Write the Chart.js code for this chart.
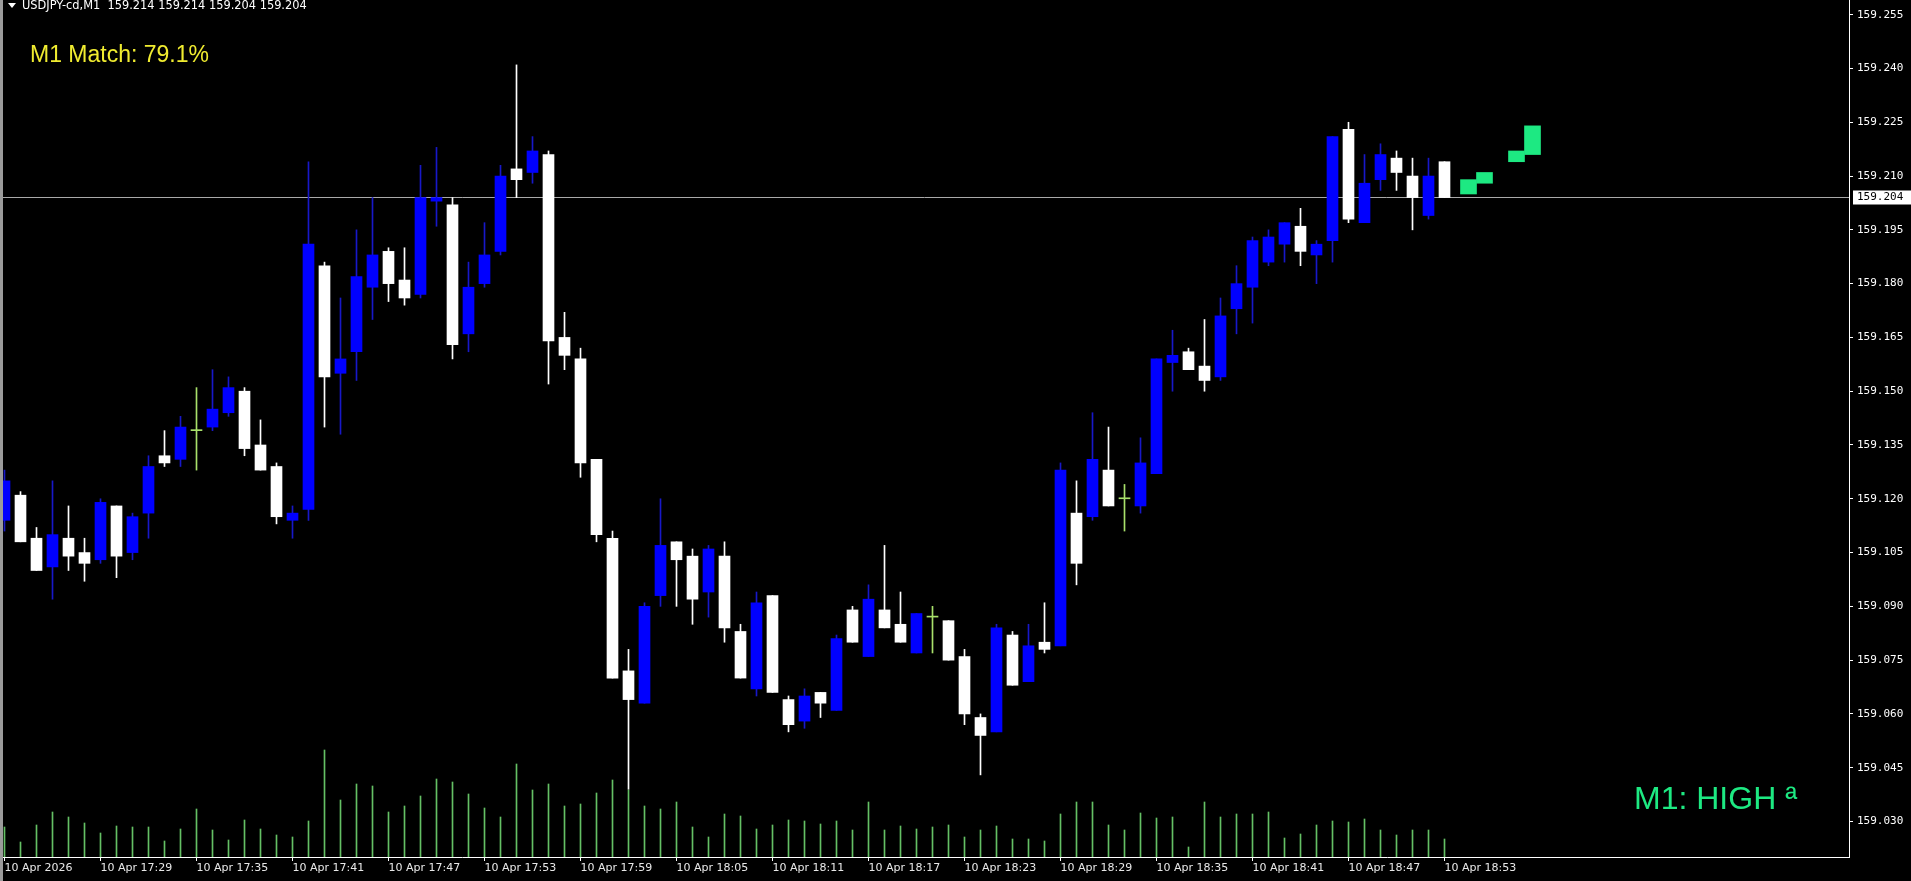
<!DOCTYPE html>
<html>
<head>
<meta charset="utf-8">
<title>USDJPY-cd,M1</title>
<script src="https://cdn.jsdelivr.net/npm/chart.js@4.4.1/dist/chart.umd.min.js"></script>
<style>
  html, body { margin: 0; padding: 0; background: #000; overflow: hidden; }
  #wrap { width: 1911px; height: 881px; }
</style>
</head>
<body>
<div id="wrap"><canvas id="chart" width="1911" height="881"></canvas></div>
<script>
// USDJPY-cd M1 candles, 10 Apr 2026 17:23 - 18:53
const times = [
  '17:23','17:24','17:25','17:26','17:27','17:28','17:29','17:30','17:31','17:32',
  '17:33','17:34','17:35','17:36','17:37','17:38','17:39','17:40','17:41','17:42',
  '17:43','17:44','17:45','17:46','17:47','17:48','17:49','17:50','17:51','17:52',
  '17:53','17:54','17:55','17:56','17:57','17:58','17:59','18:00','18:01','18:02',
  '18:03','18:04','18:05','18:06','18:07','18:08','18:09','18:10','18:11','18:12',
  '18:13','18:14','18:15','18:16','18:17','18:18','18:19','18:20','18:21','18:22',
  '18:23','18:24','18:25','18:26','18:27','18:28','18:29','18:30','18:31','18:32',
  '18:33','18:34','18:35','18:36','18:37','18:38','18:39','18:40','18:41','18:42',
  '18:43','18:44','18:45','18:46','18:47','18:48','18:49','18:50','18:51','18:52',
  '18:53'
];
const open = [
  159.114,159.121,159.109,159.101,159.109,159.105,159.103,159.118,159.105,159.116,
  159.132,159.131,159.139,159.140,159.144,159.150,159.135,159.129,159.114,159.117,
  159.185,159.155,159.161,159.179,159.189,159.181,159.177,159.203,159.202,159.166,
  159.180,159.189,159.212,159.211,159.216,159.165,159.159,159.131,159.109,159.072,
  159.063,159.093,159.108,159.104,159.094,159.104,159.083,159.067,159.093,159.064,
  159.058,159.066,159.061,159.089,159.076,159.089,159.085,159.077,159.087,159.086,
  159.076,159.059,159.055,159.082,159.069,159.080,159.079,159.116,159.115,159.128,
  159.120,159.118,159.127,159.158,159.161,159.157,159.154,159.173,159.179,159.186,
  159.191,159.196,159.188,159.192,159.223,159.197,159.209,159.215,159.210,159.199,
  159.214
];
const high = [
  159.128,159.122,159.112,159.125,159.118,159.109,159.120,159.118,159.116,159.132,
  159.139,159.143,159.151,159.156,159.154,159.151,159.142,159.130,159.118,159.214,
  159.186,159.176,159.195,159.204,159.190,159.190,159.213,159.218,159.204,159.186,
  159.197,159.213,159.241,159.221,159.217,159.172,159.162,159.131,159.111,159.078,
  159.091,159.120,159.108,159.106,159.107,159.108,159.085,159.094,159.093,159.065,
  159.067,159.066,159.082,159.090,159.096,159.107,159.094,159.088,159.090,159.086,
  159.078,159.060,159.085,159.083,159.085,159.091,159.130,159.125,159.144,159.140,
  159.124,159.137,159.159,159.167,159.162,159.170,159.176,159.185,159.193,159.195,
  159.197,159.201,159.192,159.221,159.225,159.216,159.219,159.217,159.215,159.215,
  159.214
];
const low = [
  159.111,159.108,159.100,159.092,159.100,159.097,159.102,159.098,159.103,159.109,
  159.129,159.129,159.128,159.139,159.143,159.132,159.128,159.113,159.109,159.114,
  159.140,159.138,159.153,159.170,159.175,159.174,159.176,159.196,159.159,159.161,
  159.179,159.188,159.204,159.208,159.152,159.156,159.126,159.108,159.070,159.039,
  159.063,159.090,159.090,159.085,159.087,159.080,159.070,159.065,159.066,159.055,
  159.056,159.059,159.061,159.080,159.076,159.084,159.080,159.077,159.077,159.075,
  159.057,159.043,159.055,159.068,159.069,159.077,159.079,159.096,159.114,159.118,
  159.111,159.116,159.127,159.150,159.156,159.150,159.153,159.166,159.169,159.185,
  159.186,159.185,159.180,159.186,159.197,159.197,159.206,159.206,159.195,159.198,
  159.204
];
const close = [
  159.125,159.108,159.100,159.110,159.104,159.102,159.119,159.104,159.115,159.129,
  159.130,159.140,159.139,159.145,159.151,159.134,159.128,159.115,159.116,159.191,
  159.154,159.159,159.182,159.188,159.180,159.176,159.204,159.204,159.163,159.179,
  159.188,159.210,159.209,159.217,159.164,159.160,159.130,159.110,159.070,159.064,
  159.090,159.107,159.103,159.092,159.106,159.084,159.070,159.091,159.066,159.057,
  159.065,159.063,159.081,159.080,159.092,159.084,159.080,159.088,159.087,159.075,
  159.060,159.054,159.084,159.068,159.079,159.078,159.128,159.102,159.131,159.118,
  159.120,159.130,159.159,159.160,159.156,159.153,159.171,159.180,159.192,159.193,
  159.197,159.189,159.191,159.221,159.198,159.208,159.216,159.211,159.204,159.210,
  159.204
];
const volume = [
  30,15,32,45,40,34,24,31,30,30,16,28,48,27,17,37,28,22,20,36,
  107,57,73,71,45,51,61,78,75,63,49,
  40,93,67,73,51,53,64,77,67,51,48,55,30,20,43,41,28,32,37,36,
  33,36,27,55,27,31,28,30,32,20,27,
  31,18,18,16,43,55,55,32,27,44,39,40,10,55,40,43,43,45,19,23,
  32,36,35,38,27,22,27,27,18
];

// forecast blocks (start minute index after the last bar)
const fcStart = [91, 92, 94, 95];
const fcLow = [159.205, 159.208, 159.214, 159.216];
const fcHigh = [159.209, 159.211, 159.217, 159.224];

const bid = 159.204;
const priceTicks = [159.030,159.045,159.060,159.075,159.090,159.105,159.120,159.135,
  159.150,159.165,159.180,159.195,159.210,159.225,159.240,159.255];
const timeTickIdx = [0,6,12,18,24,30,36,42,48,54,60,66,72,78,84,90];
const timeTickLabels = ['10 Apr 2026','10 Apr 17:29','10 Apr 17:35','10 Apr 17:41',
  '10 Apr 17:47','10 Apr 17:53','10 Apr 17:59','10 Apr 18:05','10 Apr 18:11',
  '10 Apr 18:17','10 Apr 18:23','10 Apr 18:29','10 Apr 18:35','10 Apr 18:41',
  '10 Apr 18:47','10 Apr 18:53'];

const BULL = '#0000ff', BULL_WICK = '#1818c8', BEAR = '#ffffff', DOJI = '#a8e06a';
const GREEN = '#1de982';

let bodyColors = [], wickColors = [];
for (let i = 0; i < times.length; i++) {
  if (close[i] > open[i]) { bodyColors.push(BULL); wickColors.push(BULL_WICK); }
  else if (close[i] < open[i]) { bodyColors.push(BEAR); wickColors.push(BEAR); }
  else { bodyColors.push(DOJI); wickColors.push(DOJI); }
}

const bodies = times.map((t, i) => ({ x: i, y: [open[i], close[i]] }));
const wicks = times.map((t, i) => ({ x: i, y: [low[i], high[i]] }));
const vols = times.map((t, i) => ({ x: i, y: volume[i] }));
const forecast = fcStart.map((s, k) => ({ x: s + 0.5, y: [fcLow[k], fcHigh[k]] }));

const mtPlugin = {
  id: 'mt',
  beforeDraw(chart) {
    const ctx = chart.ctx;
    ctx.save();
    ctx.fillStyle = '#000';
    ctx.fillRect(0, 0, chart.width, chart.height);
    ctx.restore();
  },
  beforeDatasetsDraw(chart) {
    const ctx = chart.ctx, a = chart.chartArea;
    const y = Math.floor(chart.scales.y.getPixelForValue(bid)) + 0.5;
    ctx.save();
    ctx.strokeStyle = '#a9a9a9';
    ctx.lineWidth = 1;
    ctx.beginPath();
    ctx.moveTo(a.left, y);
    ctx.lineTo(a.right, y);
    ctx.stroke();
    ctx.restore();
  },
  afterDraw(chart) {
    const ctx = chart.ctx, a = chart.chartArea;
    ctx.save();
    // left frame
    ctx.fillStyle = '#9b9b9b';
    ctx.fillRect(0, 0, 3, chart.height);

    // bid price label on the axis
    const y = Math.floor(chart.scales.y.getPixelForValue(bid)) + 0.5;
    ctx.fillStyle = '#ffffff';
    ctx.fillRect(a.right + 4, y - 7, chart.width - a.right - 4, 14);
    ctx.fillStyle = '#000';
    ctx.font = '11px "DejaVu Sans Mono"';
    ctx.textBaseline = 'middle';
    ctx.textAlign = 'left';
    ctx.fillText(bid.toFixed(3), a.right + 8, y);

    // header
    ctx.fillStyle = '#ffffff';
    ctx.beginPath();
    ctx.moveTo(8, 3); ctx.lineTo(16, 3); ctx.lineTo(12, 8); ctx.closePath();
    ctx.fill();
    ctx.font = '11.4px "DejaVu Sans"';
    ctx.fillText('USDJPY-cd,M1  ' + [open[90], high[90], low[90], close[90]].map(v => v.toFixed(3)).join(' '), 22, 6);

    ctx.textBaseline = 'alphabetic';
    ctx.fillStyle = '#f0ec30';
    ctx.font = '23px "Liberation Sans"';
    ctx.fillText('M1 Match: 79.1%', 30, 62);

    ctx.fillStyle = GREEN;
    ctx.font = '32px "Liberation Sans"';
    ctx.fillText('M1: HIGH ª', 1634, 809);
    ctx.restore();
  }
};

const ctx = document.getElementById('chart').getContext('2d');
const chart = new Chart(ctx, {
  type: 'bar',
  data: {
    datasets: [
      { label: 'body', data: bodies, backgroundColor: bodyColors, barThickness: 11,
        minBarLength: 1, grouped: false, order: 0, yAxisID: 'y' },
      { label: 'wick', data: wicks, backgroundColor: wickColors, barThickness: 1,
        grouped: false, order: 1, yAxisID: 'y' },
      { label: 'volume', data: vols, backgroundColor: '#64c064', barThickness: 1,
        grouped: false, order: 2, yAxisID: 'yv' },
      { label: 'forecast', data: forecast, backgroundColor: GREEN, barThickness: 16,
        grouped: false, order: 0, yAxisID: 'y' }
    ]
  },
  options: {
    responsive: false,
    animation: false,
    devicePixelRatio: 1,
    layout: { padding: 0, autoPadding: false },
    plugins: { legend: { display: false }, tooltip: { enabled: false } },
    scales: {
      x: {
        type: 'linear',
        position: 'bottom',
        offset: false,
        min: -4.5 / 16,
        max: (1849 - 4.5) / 16,
        afterBuildTicks: s => { s.ticks = timeTickIdx.map(v => ({ value: v })); },
        afterFit: s => { s.height = 24; s.paddingLeft = 0; s.paddingRight = 0; },
        ticks: {
          callback: (v, i) => timeTickLabels[i],
          align: 'start',
          autoSkip: false,
          maxRotation: 0,
          minRotation: 0,
          padding: 1,
          color: '#e8e8e8',
          font: { family: 'DejaVu Sans', size: 11 }
        },
        grid: { offset: false, drawOnChartArea: false, drawTicks: true, tickLength: 4, color: '#ffffff' },
        border: { display: true, color: '#ffffff', width: 1 }
      },
      y: {
        type: 'linear',
        position: 'right',
        beginAtZero: false,
        min: 159.0201,
        max: 159.2591,
        afterBuildTicks: s => { s.ticks = priceTicks.map(v => ({ value: v })); },
        afterFit: s => { s.width = 62; s.paddingTop = 0; s.paddingBottom = 0; },
        ticks: {
          callback: v => v.toFixed(3),
          padding: 4,
          color: '#ffffff',
          font: { family: 'DejaVu Sans Mono', size: 11 }
        },
        grid: { drawOnChartArea: false, drawTicks: true, tickLength: 4, color: '#ffffff' },
        border: { display: true, color: '#ffffff', width: 1 }
      },
      yv: {
        type: 'linear',
        display: false,
        min: 0,
        max: 857
      }
    }
  },
  plugins: [mtPlugin]
});
</script>
</body>
</html>
